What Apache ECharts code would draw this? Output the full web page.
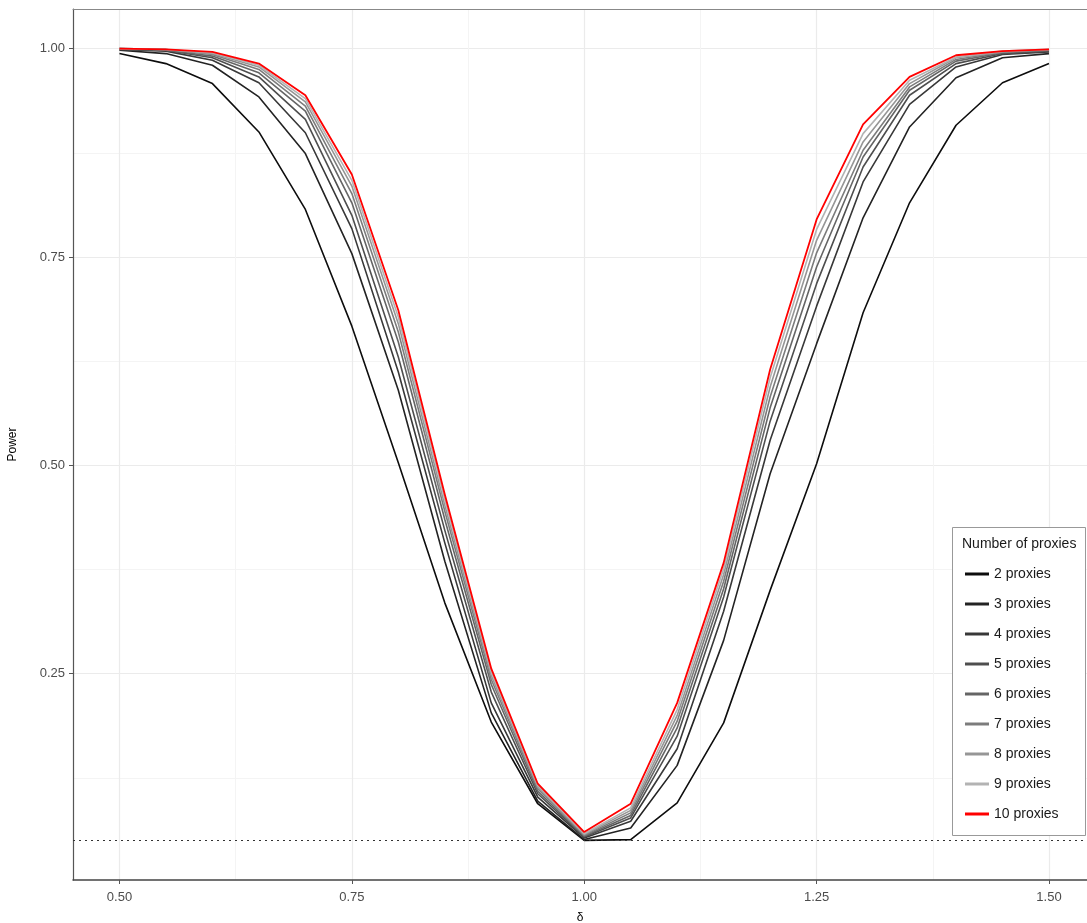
<!DOCTYPE html>
<html>
<head>
<meta charset="utf-8">
<script src="https://cdn.jsdelivr.net/npm/echarts@6/dist/echarts.min.js"></script>
<style>
  html, body { margin: 0; padding: 0; background: #fff; }
  #chart { width: 1087px; height: 923px; }
</style>
</head>
<body>
<div id="chart"></div>
<script>
// delta values on the x axis
var delta = [0.50, 0.55, 0.60, 0.65, 0.70, 0.75, 0.80, 0.85, 0.90, 0.95, 1.00,
  1.05, 1.10, 1.15, 1.20, 1.25, 1.30, 1.35, 1.40, 1.45, 1.50]

// power curves, one per number of proxies
var p2 = [0.994, 0.982, 0.958, 0.900, 0.807, 0.667, 0.503, 0.335, 0.192, 0.094, 0.050,
  0.051, 0.095, 0.191, 0.350, 0.502, 0.683, 0.815, 0.908, 0.959, 0.982]
var p3 = [0.998, 0.994, 0.980, 0.942, 0.874, 0.754, 0.590, 0.385, 0.203, 0.097, 0.051,
  0.065, 0.140, 0.290, 0.490, 0.646, 0.797, 0.906, 0.965, 0.989, 0.994]
var p4 = [0.999, 0.997, 0.986, 0.959, 0.899, 0.784, 0.612, 0.407, 0.215, 0.102, 0.053,
  0.073, 0.160, 0.325, 0.530, 0.691, 0.840, 0.933, 0.978, 0.993, 0.996]
var p5 = [0.999, 0.998, 0.989, 0.966, 0.915, 0.800, 0.630, 0.422, 0.228, 0.106, 0.054,
  0.077, 0.175, 0.342, 0.553, 0.718, 0.858, 0.944, 0.982, 0.994, 0.997]
var p6 = [1.000, 0.998, 0.991, 0.971, 0.925, 0.815, 0.648, 0.435, 0.237, 0.109, 0.055,
  0.080, 0.185, 0.352, 0.569, 0.738, 0.870, 0.950, 0.985, 0.995, 0.998]
var p7 = [1.000, 0.999, 0.993, 0.975, 0.931, 0.826, 0.660, 0.445, 0.243, 0.112, 0.056,
  0.083, 0.193, 0.361, 0.582, 0.755, 0.878, 0.954, 0.987, 0.996, 0.998]
var p8 = [1.000, 0.999, 0.994, 0.978, 0.936, 0.835, 0.670, 0.452, 0.248, 0.114, 0.057,
  0.086, 0.200, 0.369, 0.594, 0.770, 0.888, 0.958, 0.989, 0.996, 0.999]
var p9 = [1.000, 0.999, 0.995, 0.980, 0.940, 0.842, 0.678, 0.459, 0.252, 0.116, 0.058,
  0.089, 0.207, 0.376, 0.605, 0.783, 0.898, 0.962, 0.990, 0.997, 0.999]
var p10 = [1.000, 0.999, 0.996, 0.982, 0.944, 0.849, 0.686, 0.465, 0.256, 0.118, 0.060,
  0.094, 0.215, 0.383, 0.615, 0.795, 0.909, 0.966, 0.992, 0.997, 0.999]

var names = ['2 proxies', '3 proxies', '4 proxies', '5 proxies', '6 proxies',
  '7 proxies', '8 proxies', '9 proxies', '10 proxies']
var curves = [p2, p3, p4, p5, p6, p7, p8, p9, p10]

// tick labels and grid lines
var xTicks = [0.50, 0.75, 1.00, 1.25, 1.50]
var xMinor = [0.625, 0.875, 1.125, 1.375]
var yTicks = [0.25, 0.50, 0.75, 1.00]
var yMinor = [0.125, 0.375, 0.625, 0.875]
var alpha = 0.05

var colors = ['#0d0d0d', '#232323', '#383838', '#4e4e4e', '#656565',
  '#7c7c7c', '#969696', '#b3b3b3', '#ff0000']

var chart = echarts.init(document.getElementById('chart'))

var series = curves.map(function (c, i) {
  return {
    name: names[i],
    type: 'line',
    xAxisIndex: 0,
    yAxisIndex: 0,
    symbol: 'none',
    z: 3 + i,
    lineStyle: { width: i === 8 ? 1.8 : 1.6, color: colors[i] },
    itemStyle: { color: colors[i] },
    data: delta.map(function (d, j) { return [d, c[j]] })
  }
})

// dotted reference line at the nominal level
series[0].markLine = {
  silent: true,
  symbol: 'none',
  label: { show: false },
  lineStyle: { type: [2, 4], color: '#333', width: 1.2 },
  data: [{ yAxis: alpha }]
}

var labelFmt = function (v) { return v.toFixed(2) }
var font = 'Liberation Sans'

var option = {
  backgroundColor: '#fff',
  animation: false,
  grid: {
    left: 73,
    top: 9,
    right: 0,
    height: 871,
    containLabel: false,
    outerBoundsMode: 'none',
    show: false
  },
  xAxis: [{
    type: 'value',
    min: 0.45,
    max: 1.5409,
    name: 'δ',
    nameLocation: 'middle',
    nameGap: 32,
    nameTextStyle: { color: '#000', fontSize: 12, fontFamily: font },
    axisLine: { show: true, onZero: false, lineStyle: { color: '#444', width: 1.5 } },
    axisTick: { show: true, length: 4, customValues: xTicks, lineStyle: { color: '#555' } },
    axisLabel: { customValues: xTicks, formatter: labelFmt, color: '#4d4d4d', fontSize: 13, margin: 11, fontFamily: font },
    splitLine: { show: true, lineStyle: { color: '#ebebeb', width: 1.2 } }
  }, {
    type: 'value',
    min: 0.45,
    max: 1.5409,
    position: 'top',
    axisLine: { show: true, onZero: false, lineStyle: { color: '#888', width: 1 } },
    axisTick: { show: false, customValues: xMinor },
    axisLabel: { show: false, customValues: xMinor },
    splitLine: { show: true, lineStyle: { color: '#f4f4f4', width: 1 } }
  }],
  yAxis: [{
    type: 'value',
    min: 0.0025,
    max: 1.0475,
    name: 'Power',
    nameLocation: 'middle',
    nameGap: 54,
    nameTextStyle: { color: '#000', fontSize: 12, fontFamily: font },
    axisLine: { show: true, onZero: false, lineStyle: { color: '#555', width: 1.2 } },
    axisTick: { show: true, length: 4, customValues: yTicks, lineStyle: { color: '#555' } },
    axisLabel: { customValues: yTicks, formatter: labelFmt, color: '#4d4d4d', fontSize: 13, margin: 8, fontFamily: font },
    splitLine: { show: true, lineStyle: { color: '#ebebeb', width: 1.2 } }
  }, {
    type: 'value',
    min: 0.0025,
    max: 1.0475,
    position: 'right',
    axisLine: { show: false },
    axisTick: { show: false, customValues: yMinor },
    axisLabel: { show: false, customValues: yMinor },
    splitLine: { show: true, lineStyle: { color: '#f4f4f4', width: 1 } }
  }],
  legend: {
    orient: 'vertical',
    left: 960,
    top: 562,
    z: 60,
    itemWidth: 24,
    itemHeight: 3,
    itemGap: 16,
    icon: 'rect',
    textStyle: { color: '#1a1a1a', fontSize: 14, fontFamily: font },
    data: names
  },
  graphic: [{
    type: 'rect',
    shape: { x: 952.5, y: 527.5, width: 133, height: 308 },
    style: { fill: '#fff', stroke: '#999', lineWidth: 1 },
    z: 50
  }, {
    type: 'text',
    left: 962,
    top: 537,
    style: { text: 'Number of proxies', fill: '#1a1a1a', font: '14px "Liberation Sans"' },
    z: 51
  }],
  series: series
}

chart.setOption(option)
window.addEventListener('resize', function () {
  chart.resize()
})
</script>
</body>
</html>
